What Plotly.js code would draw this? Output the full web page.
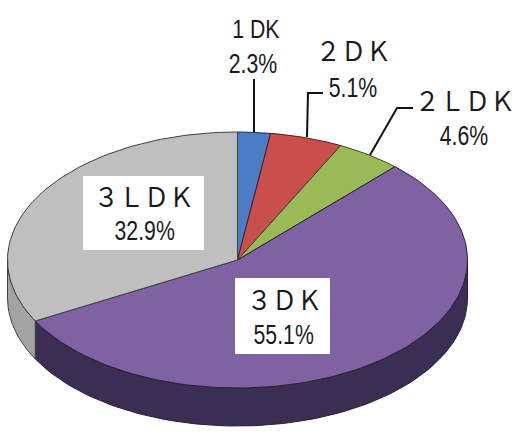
<!DOCTYPE html>
<html><head><meta charset="utf-8">
<script src="https://cdn.plot.ly/plotly-3.0.1.min.js"></script>
<style>html,body{margin:0;padding:0;background:#fff}#chart{width:515px;height:437px}</style>
</head><body><div id="chart"></div>
<script>
const categories = ["1 DK", "２ＤＫ", "２ＬＤＫ", "３ＤＫ", "３ＬＤＫ"];
const shares = [2.3, 5.1, 4.6, 55.1, 32.9];
const pctLabels = ["2.3%", "5.1%", "4.6%", "55.1%", "32.9%"];
const topColors = ["#4a7dc6", "#c84f4b", "#9aba58", "#7f62a1", "#bfbfbf"];
const sideColors = ["#3a639e", "#9e3d3a", "#7a9446", "#3b2e53", "#a3a3a3"];
const edgeColors = ["#1d2f4f", "#4a1e1c", "#3b4a22", "#2a1f3d", "#404040"];

// geometry of the tilted pie (pixel space)
const cx = 237.5, cy = 260, rx = 230, ry = 128, depth = 38;
function pt(deg, dy) {
  const t = deg * Math.PI / 180;
  return [cx + rx * Math.sin(t), cy - ry * Math.cos(t) + dy];
}
function arc(a, b, dy) {
  const xs = [], ys = [];
  const n = Math.max(2, Math.ceil(Math.abs(b - a) / 1.5));
  for (let i = 0; i <= n; i++) {
    const p = pt(a + (b - a) * i / n, dy);
    xs.push(p[0]); ys.push(p[1]);
  }
  return [xs, ys];
}
const total = shares.reduce((s, v) => s + v, 0);
const bounds = [];
let acc = 0;
shares.forEach(v => { const a = acc / total * 360; acc += v; bounds.push([a, acc / total * 360]); });

const traces = [];
// side walls
bounds.forEach(([a, b], i) => {
  const s = Math.max(a, 90), e = Math.min(b, 270);
  if (e <= s) return;
  const top = arc(s, e, 0), bot = arc(e, s, depth);
  traces.push({
    type: "scatter", mode: "lines", x: top[0].concat(bot[0], [top[0][0]]), y: top[1].concat(bot[1], [top[1][0]]),
    fill: "toself", fillcolor: sideColors[i], line: { color: edgeColors[i], width: 1 }, hoverinfo: "skip", showlegend: false
  });
});
// top faces
bounds.forEach(([a, b], i) => {
  const ar = arc(a, b, 0);
  traces.push({
    type: "scatter", mode: "lines", x: [cx].concat(ar[0], [cx]), y: [cy].concat(ar[1], [cy]),
    fill: "toself", fillcolor: topColors[i], line: { color: edgeColors[i], width: 1 }, hoverinfo: "skip", showlegend: false, name: categories[i]
  });
});

const fam = "Liberation Sans, Noto Sans CJK JP, sans-serif";
// [text, x, y, fontsize, horizontal scale]
const labelSpecs = [
  [categories[0], 256, 29, 25, 0.85], [pctLabels[0], 253, 63, 28, 0.76],
  [categories[1], 353, 52, 27, 0.93], [pctLabels[1], 353, 87, 28, 0.76],
  [categories[2], 465, 102, 27, 0.93], [pctLabels[2], 464, 135, 28, 0.76],
  [categories[3], 284, 301, 27, 0.93], [pctLabels[3], 283, 334, 28, 0.76],
  [categories[4], 143.5, 198, 27, 0.93], [pctLabels[4], 144, 230, 28, 0.76]
];
const annotations = labelSpecs.map(s => ({
  x: s[1], y: s[2], xref: "x", yref: "y", text: s[0], showarrow: false,
  font: { family: fam, size: s[3], color: "#1a1a1a" }, xanchor: "center", yanchor: "middle"
}));

const lineStyle = { color: "#111", width: 2 };
const shapes = [
  { type: "rect", x0: 83, x1: 204, y0: 176, y1: 250, xref: "x", yref: "y", fillcolor: "#fff", line: { width: 0 }, layer: "above" },
  { type: "rect", x0: 235, x1: 330, y0: 278, y1: 354, xref: "x", yref: "y", fillcolor: "#fff", line: { width: 0 }, layer: "above" },
  { type: "path", path: "M 254 79 L 254 132", xref: "x", yref: "y", line: lineStyle },
  { type: "path", path: "M 323 93 L 308 93 L 307 137", xref: "x", yref: "y", line: lineStyle },
  { type: "path", path: "M 413 108 L 397 108 L 370 155", xref: "x", yref: "y", line: lineStyle }
];

Plotly.newPlot("chart", traces, {
  width: 515, height: 437, margin: { l: 0, r: 0, t: 0, b: 0 },
  paper_bgcolor: "#fff", plot_bgcolor: "#fff", showlegend: false,
  xaxis: { range: [0, 515], visible: false, fixedrange: true },
  yaxis: { range: [437, 0], visible: false, fixedrange: true },
  annotations, shapes
}, { staticPlot: true }).then(gd => {
  // condense label glyphs horizontally (narrow typeface look)
  gd.querySelectorAll("g.annotation").forEach(g => {
    const idx = +g.getAttribute("data-index");
    const t = g.querySelector("text.annotation-text");
    if (!t || !labelSpecs[idx]) return;
    const bb = t.getBBox();
    const c = bb.x + bb.width / 2, k = labelSpecs[idx][4];
    t.setAttribute("transform", `translate(${c},0) scale(${k},1) translate(${-c},0)`);
  });
});
</script></body></html>
